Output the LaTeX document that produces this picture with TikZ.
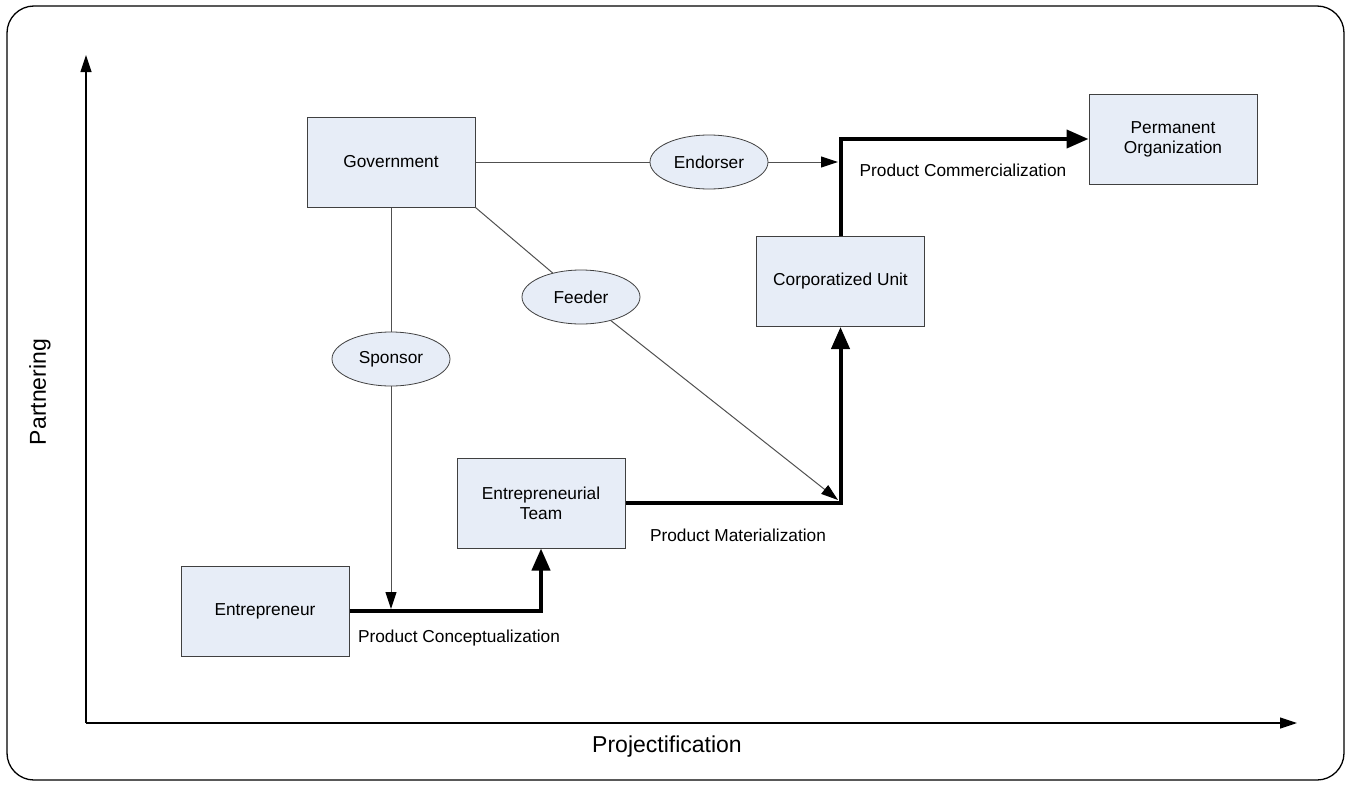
\documentclass[tikz,border=0pt]{standalone}
\usepackage{fontspec}
\setmainfont{Liberation Sans}
\usetikzlibrary{arrows.meta,shapes.geometric}
\definecolor{boxfill}{HTML}{E7EDF7}
\definecolor{boxline}{HTML}{404040}
\definecolor{linkline}{HTML}{505050}
\begin{document}
\begin{tikzpicture}[x=1pt,y=-1pt,
 box/.style={draw=boxline,fill=boxfill,line width=1pt,minimum width=168pt,minimum height=90pt,inner sep=0pt,align=center,font=\fontsize{17.3}{20}\selectfont},
 oval/.style={ellipse,draw=boxline,fill=boxfill,line width=0.8pt,minimum width=118pt,minimum height=54pt,inner sep=0pt,font=\fontsize{17.3}{20}\selectfont},
 link/.style={draw=linkline,line width=1pt},
 linkarrow/.style={link,-{Triangle[length=17pt,width=11pt,color=black]}},
 mainflow/.style={line width=4pt,-{Triangle[length=22pt,width=18pt]}},
 lbl/.style={font=\fontsize{17.3}{20}\selectfont,inner sep=0pt},
 axis/.style={line width=1.2pt,-{Triangle[length=17pt,width=11pt]}},
 axlbl/.style={font=\fontsize{23}{26}\selectfont,inner sep=0pt}]
\useasboundingbox (0,0) rectangle (1348,784);
% frame
\draw[line width=1.3pt,rounded corners=27pt] (7,6) rectangle (1344,780);
% axes
\coordinate (origin) at (86,723);
\coordinate (ytip) at (86,55);
\coordinate (xtip) at (1297,723);
\draw[axis] (origin) -- (ytip);
\draw[axis] (origin) -- (xtip);
\node[axlbl] (xlab) at (667,747) {Projectification};
\node[axlbl,rotate=90] (ylab) at (40,392) {Partnering};
% boxes
\node[box] (gov) at (391,162) {Government};
\node[box] (ent) at (265,611) {Entrepreneur};
\node[box] (team) at (541,503) {Entrepreneurial\\Team};
\node[box] (corp) at (840.5,281.5) {Corporatized Unit};
\node[box] (perm) at (1173,139) {Permanent\\Organization};
% ovals
\node[oval] (endo) at (709,162) {Endorser};
\node[oval] (feed) at (581,297) {Feeder};
\node[oval] (spon) at (391,359) {Sponsor};
% main flow
\draw[mainflow] (ent.east) -| (team.south);
\draw[mainflow] (team.east) -| (corp.south);
\draw[mainflow] (corp.north) |- (perm.west);
% links
\coordinate (endtip) at (838,162);
\coordinate (sptip) at (391,609);
\coordinate (fdtip) at (838,500);
\draw[link] (gov.east) -- (endo);
\draw[linkarrow] (endo) -- (endtip);
\draw[link] (gov.south) -- (spon);
\draw[linkarrow] (spon) -- (sptip);
\draw[link] (gov.south east) -- (feed);
\draw[linkarrow] (feed) -- (fdtip);
% labels
\node[lbl] (l1) at (459,638) {Product Conceptualization};
\node[lbl] (l2) at (738,535) {Product Materialization};
\node[lbl] (l3) at (963,170) {Product Commercialization};
\end{tikzpicture}
\end{document}
